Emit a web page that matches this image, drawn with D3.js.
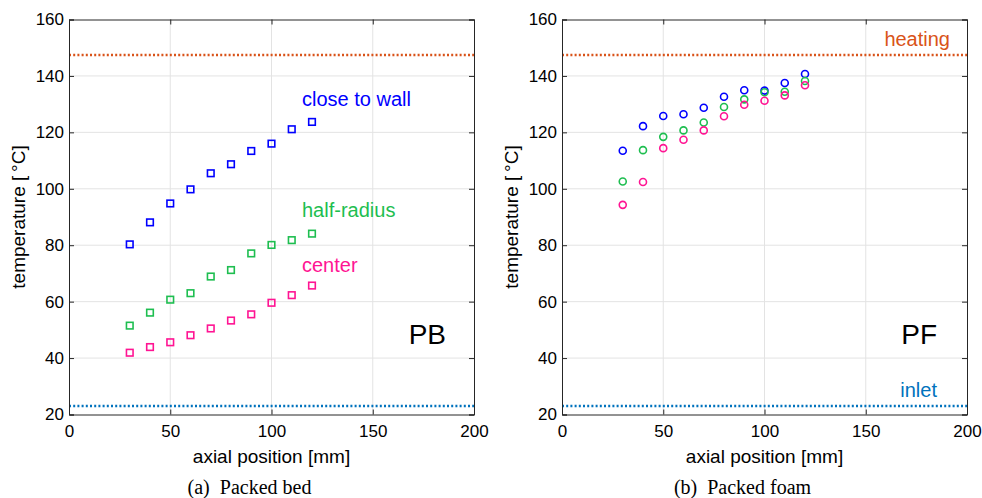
<!DOCTYPE html>
<html lang="en">
  <head>
    <meta charset="UTF-8" />
    <title>Axial temperature profiles</title>
    <style>
      body { margin: 0; background: #fff; }
      text { font-family: "Liberation Sans", Arial, sans-serif; fill: #000; }
      .tick text { font-size: 17px; }
      .caption { font-family: "Liberation Serif", "DejaVu Serif", serif; font-size: 20px; }
    </style>
  </head>
  <body>
    <svg width="982" height="498"></svg>
    <script src="https://d3js.org/d3.v7.min.js"></script>
    <script>
      // data
      const positions = [30, 40, 50, 60, 70, 80, 90, 100, 110, 120];

      const pbWall = [80.3, 88.1, 94.8, 99.8, 105.5, 108.7, 113.4, 116.0, 121.1, 123.7];
      const pbHalf = [51.5, 56.1, 60.7, 63.0, 68.9, 71.2, 77.1, 80.1, 81.8, 84.1];
      const pbCenter = [41.9, 43.9, 45.6, 48.1, 50.5, 53.3, 55.5, 59.6, 62.3, 65.7];

      const pfWall = [113.5, 122.2, 125.8, 126.4, 128.7, 132.6, 134.9, 134.8, 137.5, 140.7];
      const pfHalf = [102.6, 113.7, 118.4, 120.7, 123.5, 129.0, 131.7, 134.2, 134.4, 138.2];
      const pfCenter = [94.3, 102.4, 114.4, 117.4, 120.7, 125.7, 129.8, 131.2, 133.1, 136.7];

      const heatingTemp = 147.4;
      const inletTemp = 23;

      const xTicks = [0, 50, 100, 150, 200];
      const yTicks = [20, 40, 60, 80, 100, 120, 140, 160];

      const blue = "#0000ff";
      const green = "#1ebe50";
      const pink = "#ff1493";
      const orange = "#d95319";
      const steel = "#0072bd";

      const svg = d3.select("svg");

      function panel(left, opts) {
        const w = 405, h = 395, top = 19.5;
        const g = svg.append("g").attr("transform", `translate(${left},${top})`);
        const x = d3.scaleLinear().domain([0, 200]).range([0, w]);
        const y = d3.scaleLinear().domain([20, 160]).range([h, 0]);

        // grid
        g.append("g")
          .selectAll("line")
          .data(xTicks.slice(1, -1))
          .join("line")
          .attr("x1", (d) => x(d)).attr("x2", (d) => x(d))
          .attr("y1", 0).attr("y2", h)
          .attr("stroke", "#e3e3e3").attr("stroke-width", 1);
        g.append("g")
          .selectAll("line")
          .data(yTicks.slice(1, -1))
          .join("line")
          .attr("x1", 0).attr("x2", w)
          .attr("y1", (d) => y(d)).attr("y2", (d) => y(d))
          .attr("stroke", "#e3e3e3").attr("stroke-width", 1);

        // reference lines
        [[heatingTemp, orange], [inletTemp, steel]].forEach(([v, c]) => {
          g.append("line")
            .attr("x1", 0).attr("x2", w)
            .attr("y1", y(v)).attr("y2", y(v))
            .attr("stroke", c).attr("stroke-width", 2.5)
            .attr("stroke-dasharray", "2,2.2");
        });

        // axes with inward ticks
        g.append("g").attr("transform", `translate(0,${h})`)
          .call(d3.axisBottom(x).tickValues(xTicks).tickSize(-5).tickPadding(10));
        g.append("g")
          .call(d3.axisLeft(y).tickValues(yTicks).tickSize(-5).tickPadding(5));
        g.append("g").attr("transform", `translate(${w},0)`)
          .call(d3.axisRight(y).tickValues(yTicks).tickSize(-5).tickFormat(""));
        g.append("g")
          .call(d3.axisTop(x).tickValues(xTicks).tickSize(-5).tickFormat(""));
        g.selectAll(".domain").attr("stroke", "#262626");
        g.selectAll(".tick line").attr("stroke", "#262626");
        g.selectAll(".tick text").attr("fill", "#000").style("font-family", "Liberation Sans, Arial, sans-serif");

        // axis labels
        g.append("text")
          .attr("x", w / 2).attr("y", 443)
          .attr("text-anchor", "middle")
          .style("font-size", "19px")
          .text("axial position [mm]");
        g.append("text")
          .attr("transform", `translate(-44,${h / 2}) rotate(-90)`)
          .attr("text-anchor", "middle")
          .style("font-size", "19px")
          .text("temperature [\u2009°C]");

        // data
        opts.series.forEach((s) => {
          const pts = g.append("g");
          if (opts.marker === "square") {
            pts.selectAll("rect").data(s.values).join("rect")
              .attr("x", (d, i) => x(positions[i]) - 3.3)
              .attr("y", (d) => y(d) - 3.3)
              .attr("width", 6.6).attr("height", 6.6)
              .attr("fill", "none").attr("stroke", s.color).attr("stroke-width", 1.6);
          } else {
            pts.selectAll("circle").data(s.values).join("circle")
              .attr("cx", (d, i) => x(positions[i]))
              .attr("cy", (d) => y(d))
              .attr("r", 3.5)
              .attr("fill", "none").attr("stroke", s.color).attr("stroke-width", 1.6);
          }
        });

        // annotations
        opts.notes.forEach((n) => {
          g.append("text")
            .attr("x", n.x).attr("y", n.y)
            .attr("text-anchor", n.anchor || "start")
            .style("fill", n.color)
            .style("font-size", n.size + "px")
            .text(n.text);
        });

        svg.append("text")
          .attr("class", "caption")
          .attr("x", left + w / 2 - 22).attr("y", 494)
          .attr("text-anchor", "middle")
          .attr("xml:space", "preserve")
          .text(opts.caption);
      }

      panel(69, {
        marker: "square",
        series: [
          { values: pbWall, color: blue },
          { values: pbHalf, color: green },
          { values: pbCenter, color: pink },
        ],
        notes: [
          { text: "close to wall", x: 233, y: 86, color: blue, size: 20 },
          { text: "half-radius", x: 233, y: 197.5, color: green, size: 20 },
          { text: "center", x: 233, y: 252, color: pink, size: 20 },
          { text: "PB", x: 377, y: 324, color: "#000", size: 28, anchor: "end" },
        ],
        caption: "(a)  Packed bed",
      });

      panel(562, {
        marker: "circle",
        series: [
          { values: pfWall, color: blue },
          { values: pfHalf, color: green },
          { values: pfCenter, color: pink },
        ],
        notes: [
          { text: "heating", x: 388, y: 26.5, color: orange, size: 20, anchor: "end" },
          { text: "inlet", x: 375, y: 377, color: steel, size: 20, anchor: "end" },
          { text: "PF", x: 375, y: 324.5, color: "#000", size: 28, anchor: "end" },
        ],
        caption: "(b)  Packed foam",
      });
    </script>
  </body>
</html>
